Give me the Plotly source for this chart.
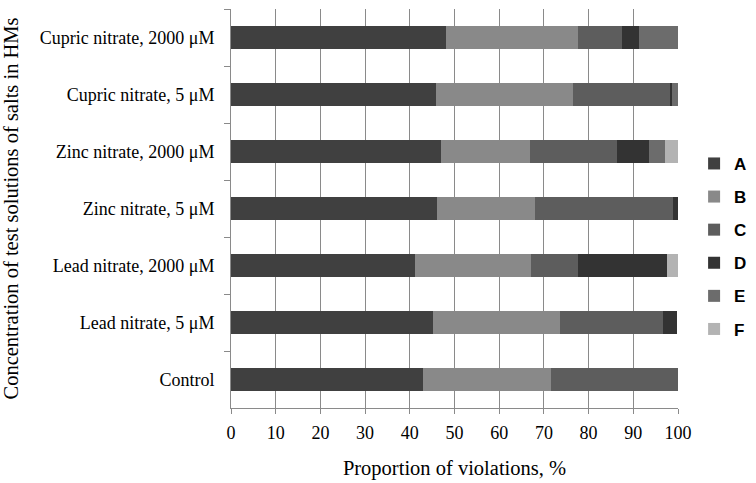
import plotly.graph_objects as go

categories = [
    "Cupric nitrate, 2000 μM",
    "Cupric nitrate, 5 μM",
    "Zinc nitrate, 2000 μM",
    "Zinc nitrate, 5 μM",
    "Lead nitrate, 2000 μM",
    "Lead nitrate, 5 μM",
    "Control",
]
series_names = ["A", "B", "C", "D", "E", "F"]
A = [48.1, 45.8, 46.9, 46.1, 41.2, 45.2, 43.0]
B = [29.5, 30.6, 19.9, 21.9, 26.0, 28.3, 28.5]
C = [9.9, 21.7, 19.6, 30.9, 10.4, 23.1, 28.5]
D = [3.7, 0.6, 7.1, 1.1, 19.9, 3.1, 0.0]
E = [8.8, 1.3, 3.7, 0.0, 0.0, 0.0, 0.0]
F = [0.0, 0.0, 2.8, 0.0, 2.5, 0.0, 0.0]
x_ticks = [0, 10, 20, 30, 40, 50, 60, 70, 80, 90, 100]

colors = ["#404040", "#898989", "#5d5d5d", "#333333", "#6c6c6c", "#b3b3b3"]
values = [A, B, C, D, E, F]

fig = go.Figure()
for name, vals, col in zip(series_names, values, colors):
    fig.add_trace(go.Bar(
        y=categories, x=vals, name=name, orientation="h",
        marker=dict(color=col, line=dict(width=0)),
        legendgroup=name,
    ))

serif = "Liberation Serif, Times New Roman, serif"
fig.update_layout(
    barmode="stack",
    bargap=0.6,
    width=756, height=483,
    margin=dict(l=231, r=78, t=9, b=75, autoexpand=False),
    paper_bgcolor="white", plot_bgcolor="white",
    font=dict(family=serif, size=18, color="#000000"),
    legend=dict(
        x=1.036, y=0.405, xanchor="left", yanchor="middle",
        font=dict(family="Liberation Sans, Arial, sans-serif", size=17, color="#000000", weight="bold"),
        tracegroupgap=8, itemwidth=30, bgcolor="rgba(0,0,0,0)",
    ),
    showlegend=True,
)
fig.update_xaxes(
    range=[0, 100], tickvals=x_ticks, ticktext=[str(v) for v in x_ticks],
    showgrid=True, gridcolor="#8a8a8a", gridwidth=1,
    showline=True, linecolor="#8a8a8a", linewidth=1,
    ticks="outside", ticklen=5, tickcolor="#8a8a8a",
    ticklabelstandoff=3,
    tickfont=dict(family=serif, size=18),
    title=dict(text="Proportion of violations, %", font=dict(family=serif, size=20.5), standoff=19),
    zeroline=False, automargin=False,
)
fig.update_yaxes(
    autorange="reversed", type="category",
    showgrid=False,
    showline=True, linecolor="#8a8a8a", linewidth=1,
    ticks="outside", ticklen=6, tickcolor="#8a8a8a", tickson="boundaries",
    ticklabelstandoff=12,
    tickfont=dict(family=serif, size=18),
    title=dict(text="Concentration of test solutions of salts in HMs", font=dict(family=serif, size=20.5), standoff=16),
    automargin=False,
)

fig.write_html(
    "out.html",
    config={"displayModeBar": False},
    post_script="document.body.style.margin='0';document.body.style.overflow='hidden';",
)
